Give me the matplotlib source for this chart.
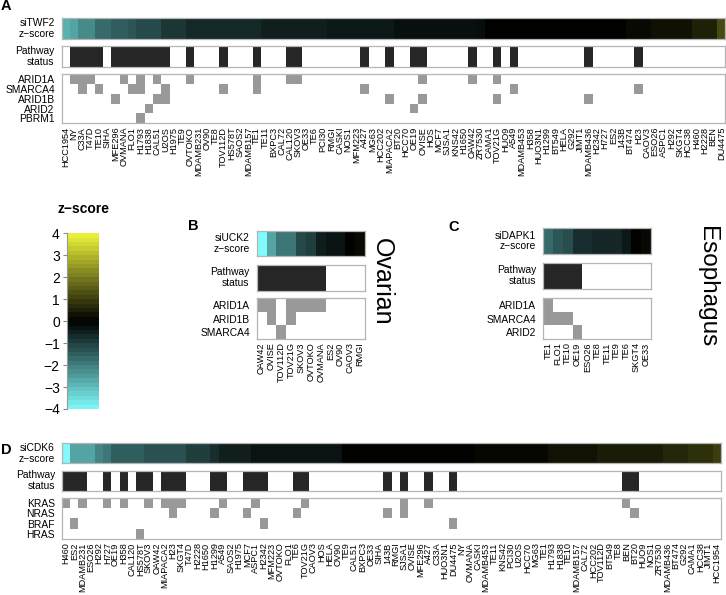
import numpy as np
import matplotlib
matplotlib.use("Agg")
import matplotlib.pyplot as plt
from matplotlib.colors import LinearSegmentedColormap, ListedColormap, Normalize

plt.rcParams['font.family'] = ['Liberation Sans', 'DejaVu Sans']

# ---------------- data ----------------
# panel A: siTWF2, SWI/SNF pathway
a_cells = ["HCC1954", "NY", "C33A", "T47D", "TE10", "SIHA", "MFE296", "OVMANA", "FLO1", "H1793",
           "H1838", "CAL51", "U2OS", "H1975", "TE9", "OVTOKO", "MDAMB231", "OV90", "TE8", "TOV112D",
           "HS578T", "SAOS2", "MDAMB157", "TE1", "TE11", "BXPC3", "CAL72", "CAL120", "SKOV3", "OE33",
           "TE6", "PCI30", "RMGI", "CASKI", "NOS1", "MFM223", "A427", "MG63", "HCC202", "MIAPACA2",
           "BT20", "HCC70", "OE19", "OVISE", "HOS", "MCF7", "SJSA1", "KNS42", "H1650", "OAW42",
           "ZR7530", "CAMA1", "TOV21G", "HUO9", "A549", "MDAMB453", "H358", "HUO3N1", "H1299", "BT549",
           "HELA", "G292", "JIMT1", "MDAMB436", "H2342", "H727", "ES2", "143B", "BT474", "H23",
           "CAOV3", "ESO26", "ASPC1", "H292", "SKGT4", "HCC38", "H460", "H2228", "BEN", "DU4475"]
a_z = [-2.8, -2.6, -2.2, -2.2, -1.7, -1.7, -1.5, -1.5, -1.35, -1.2,
       -1.2, -1.2, -0.85, -0.85, -0.85, -0.65, -0.65, -0.65, -0.65, -0.65,
       -0.65, -0.65, -0.65, -0.65, -0.5, -0.5, -0.5, -0.5, -0.5, -0.5,
       -0.5, -0.5, -0.35, -0.35, -0.35, -0.35, -0.35, -0.35, -0.35, -0.35,
       -0.25, -0.25, -0.25, -0.25, -0.25, -0.25, -0.25, -0.25, -0.25, -0.25,
       -0.2, 0.0, 0.0, 0.0, 0.0, 0.0, 0.0, 0.0, 0.0, 0.0,
       0.0, 0.0, 0.0, 0.0, 0.0, 0.0, 0.0, 0.0, 0.15, 0.15,
       0.15, 0.25, 0.25, 0.25, 0.25, 0.25, 0.5, 0.5, 0.5, 1.2]
a_genes = ["ARID1A", "SMARCA4", "ARID1B", "ARID2", "PBRM1"]
a_arid1a = ["NY", "C33A", "T47D", "OVMANA", "H1793", "CAL51", "OVTOKO", "TE1", "CAL120", "SKOV3",
            "OVISE", "OAW42", "TOV21G"]
a_smarca4 = ["C33A", "TE10", "FLO1", "H1793", "U2OS", "TOV112D", "TE1", "A427", "A549", "H23"]
a_arid1b = ["MFE296", "CAL51", "U2OS", "MIAPACA2", "OVISE", "TOV21G", "MDAMB436"]
a_arid2 = ["H1838", "OE19"]
a_pbrm1 = ["H1793"]

# panel B: siUCK2, ovarian
b_cells = ["OAW42", "OVISE", "TOV112D", "TOV21G", "SKOV3", "OVTOKO", "OVMANA", "ES2", "OV90", "CAOV3", "RMGI"]
b_z = [-4.0, -2.6, -1.85, -1.85, -1.15, -1.0, -0.45, -0.3, -0.3, 0.0, 0.15]
b_genes = ["ARID1A", "ARID1B", "SMARCA4"]
b_arid1a = ["OAW42", "OVISE", "TOV21G", "SKOV3", "OVTOKO", "OVMANA"]
b_arid1b = ["OVISE", "TOV21G"]
b_smarca4 = ["TOV112D"]

# panel C: siDAPK1, esophagus
c_cells = ["TE1", "FLO1", "TE10", "OE19", "ESO26", "TE8", "TE11", "TE9", "TE6", "SKGT4", "OE33"]
c_z = [-1.7, -1.4, -1.25, -0.75, -0.75, -0.6, -0.6, -0.6, -0.35, 0.0, 0.15]
c_genes = ["ARID1A", "SMARCA4", "ARID2"]
c_arid1a = ["TE1"]
c_smarca4 = ["TE1", "FLO1", "TE10"]
c_arid2 = ["OE19"]

# panel D: siCDK6, RAS pathway
d_cells = ["H460", "ES2", "MDAMB231", "ESO26", "H292", "H727", "OE19", "H358", "CAL120", "HS578T",
           "SKOV3", "OAW42", "MIAPACA2", "H23", "SKGT4", "T47D", "H2228", "H1650", "H1299", "A549",
           "SAOS2", "H1975", "MCF7", "ASPC1", "H2342", "MFM223", "OVTOKO", "FLO1", "TE6", "TOV21G",
           "CAOV3", "HOS", "HELA", "OV90", "TE9", "CAL51", "BXPC3", "OE33", "SIHA", "143B",
           "RMGI", "SJSA1", "OVISE", "MFE296", "A427", "C33A", "HUO3N1", "DU4475", "NY", "OVMANA",
           "CASKI", "MDAMB453", "TE11", "KNS42", "PCI30", "U2OS", "HCC70", "MG63", "TE1", "H1793",
           "H1838", "TE10", "MDAMB157", "CAL72", "HCC202", "TOV112D", "BT549", "TE8", "BEN", "BT20",
           "HUO9", "NOS1", "ZR7530", "MDAMB436", "BT474", "G292", "CAMA1", "HCC38", "JIMT1", "HCC1954"]
d_z = [-4.0, -2.6, -2.6, -2.6, -2.1, -1.9, -1.5, -1.5, -1.5, -1.5,
       -1.3, -1.3, -1.3, -1.3, -1.3, -1.0, -1.0, -1.0, -0.75, -0.5,
       -0.5, -0.5, -0.5, -0.3, -0.3, -0.3, -0.3, -0.3, -0.3, -0.3,
       -0.3, -0.3, -0.3, -0.3, 0.0, 0.0, 0.0, 0.0, 0.0, 0.0,
       0.0, 0.0, 0.0, 0.0, 0.0, 0.0, 0.0, 0.0, 0.0, 0.0,
       0.12, 0.12, 0.12, 0.12, 0.12, 0.12, 0.12, 0.12, 0.12, 0.3,
       0.3, 0.3, 0.3, 0.3, 0.3, 0.45, 0.45, 0.45, 0.45, 0.45,
       0.45, 0.45, 0.45, 0.6, 0.6, 0.6, 0.75, 0.75, 0.75, 1.0]
d_genes = ["KRAS", "NRAS", "BRAF", "HRAS"]
d_kras = ["H460", "MDAMB231", "H727", "H358", "SKOV3", "MIAPACA2", "H23", "SKGT4", "A549", "ASPC1",
          "TOV21G", "SJSA1", "A427", "BEN"]
d_nras = ["H23", "H1299", "MCF7", "TE6", "143B", "SJSA1", "BT20"]
d_braf = ["ES2", "H2342", "DU4475"]
d_hras = ["HS578T"]

# ---------------- drawing ----------------
W, H = 726, 595
fig = plt.figure(figsize=(7.26, 5.95), dpi=100)

zcmap = LinearSegmentedColormap.from_list("zs", ["#80fafa", "#000000", "#eef53a"])
znorm = Normalize(-4, 4)
mutcmap = ListedColormap(["white", "#999999"])
edge = "#b5b5b5"
row_fs = 7.4
tick_fs = 6.6


def px_axes(x0, y0, x1, y1):
    return fig.add_axes([x0 / W, 1 - y1 / H, (x1 - x0) / W, (y1 - y0) / H])


def boxed(ax):
    for s in ax.spines.values():
        s.set_color(edge)
        s.set_linewidth(0.9)
    ax.set_xticks([])
    ax.set_yticks([])


def left_label(ax, text):
    ax.text(-7 / (ax.get_position().width * W), 0.5, text, transform=ax.transAxes,
            ha="right", va="center", fontsize=row_fs, linespacing=1.1)


def draw_panel(cells, z, genes, muts, x0, x1, yh, yp, ym, zlab):
    n = len(cells)
    xs = np.arange(n + 1)

    # z-score strip
    ax = px_axes(x0, yh[0], x1, yh[1])
    ax.pcolormesh(xs, [0, 1], np.array(z)[None, :], cmap=zcmap, norm=znorm)
    ax.set_xlim(0, n)
    boxed(ax)
    left_label(ax, zlab)

    # pathway status = any mutation in the gene set
    status = [1 if any(c in m for m in muts) else 0 for c in cells]
    ax2 = px_axes(x0, yp[0], x1, yp[1])
    ax2.bar(np.arange(n) + 0.5, status, width=1, color="#262626", linewidth=0)
    ax2.set_xlim(0, n)
    ax2.set_ylim(0, 1)
    boxed(ax2)
    left_label(ax2, "Pathway\nstatus")

    # mutation grid
    mat = np.array([[1 if c in m else 0 for c in cells] for m in muts])
    ax3 = px_axes(x0, ym[0], x1, ym[1])
    ax3.pcolormesh(xs, np.arange(len(genes) + 1), mat, cmap=mutcmap, vmin=0, vmax=1)
    ax3.set_xlim(0, n)
    ax3.set_ylim(len(genes), 0)
    for s in ax3.spines.values():
        s.set_color(edge)
        s.set_linewidth(0.9)
    ax3.set_yticks(np.arange(len(genes)) + 0.5, genes, fontsize=row_fs)
    ax3.set_xticks(np.arange(n) + 0.5, cells, rotation=90, fontsize=tick_fs)
    ax3.tick_params(length=0)
    ax3.tick_params(axis="y", pad=5)
    ax3.tick_params(axis="x", pad=2.5)


draw_panel(a_cells, a_z, a_genes, [a_arid1a, a_smarca4, a_arid1b, a_arid2, a_pbrm1],
           61.7, 725.5, (18.3, 39.3), (46, 67.3), (74, 123.3), "siTWF2\nz\u2212score")
draw_panel(b_cells, b_z, b_genes, [b_arid1a, b_arid1b, b_smarca4],
           256.7, 365, (231, 256), (265, 290.5), (298.3, 339), "siUCK2\nz\u2212score")
draw_panel(c_cells, c_z, c_genes, [c_arid1a, c_smarca4, c_arid2],
           543.3, 651, (228, 254), (263, 288.5), (298.3, 339), "siDAPK1\nz\u2212score")
draw_panel(d_cells, d_z, d_genes, [d_kras, d_nras, d_braf, d_hras],
           62, 721, (443.3, 463.3), (470.7, 490.7), (497.7, 539), "siCDK6\nz\u2212score")

# colour key
axc = px_axes(66.7, 233.3, 99, 409)
lev = np.linspace(-4, 4, 41)
axc.pcolormesh([0, 1], lev, ((lev[:-1] + lev[1:]) / 2)[:, None], cmap=zcmap, norm=znorm)
axc.set_ylim(-4, 4)
axc.set_xticks([])
axc.set_yticks(range(-4, 5))
axc.tick_params(axis="y", labelsize=10, length=3, color="#888888", pad=2)
for k in ["top", "right", "bottom"]:
    axc.spines[k].set_visible(False)
axc.spines["left"].set_color("#999999")
fig.text(83 / W, 1 - 209 / H, "z\u2212score", ha="center", va="center", fontsize=10, fontweight="bold")

# panel letters and tissue labels
for lab, x, y in [("A", 1, 6), ("B", 188, 226), ("C", 448, 227), ("D", 1, 450)]:
    fig.text(x / W, 1 - y / H, lab, ha="left", va="center", fontsize=10.5, fontweight="bold")
fig.text(382 / W, 1 - 282 / H, "Ovarian", rotation=270, ha="center", va="center", fontsize=18)
fig.text(707 / W, 1 - 287 / H, "Esophagus", rotation=270, ha="center", va="center", fontsize=17.5)

fig.savefig("out.png", dpi=100)
